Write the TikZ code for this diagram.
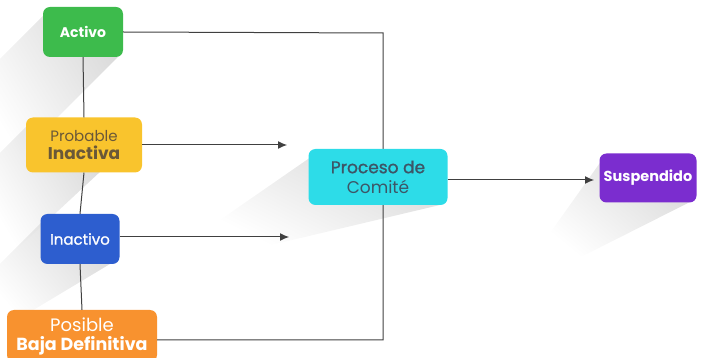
\documentclass[tikz,border=0pt]{standalone}
\usepackage{fontspec}
\setmainfont{Poppins}
\usetikzlibrary{arrows.meta,fadings}
\definecolor{cgreen}{HTML}{3DBB4C}
\definecolor{cyellow}{HTML}{F9C42D}
\definecolor{cblue}{HTML}{2D5ECF}
\definecolor{corange}{HTML}{F8922F}
\definecolor{ccyan}{HTML}{2DDCE8}
\definecolor{cpurple}{HTML}{7B2DCF}
\definecolor{ctext}{HTML}{6A5838}
\definecolor{cctext}{HTML}{3D5566}
\newcommand{\medw}{\addfontfeature{FakeBold=1.2}}
\tikzset{
  box/.style={rounded corners=7pt, inner sep=0pt, align=center},
  link/.style={draw=black!75, line width=1pt},
  arr/.style={link, -{Latex[length=9pt,width=8pt]}},
  shadow/.style={fill=black!14, path fading=east, fading angle=220},
}
\begin{document}
\begin{tikzpicture}[x=1pt,y=-1pt]
\useasboundingbox (0,0) rectangle (713,358);
% shadows
\fill[shadow] (45,14) -- (0,59) -- (0,175) -- (118,57) -- cycle;
\fill[shadow] (28,125) -- (0,153) -- (0,265) -- (100,172) -- cycle;
\fill[shadow] (42,222) -- (0,264) -- (0,330) -- (110,264) -- cycle;
\fill[shadow] (311,157) -- (220,220) -- (250,250) -- (440,205) -- cycle;
\fill[shadow] (602,160) -- (545,240) -- (575,260) -- (690,202) -- cycle;
% connectors (behind nodes)
\coordinate (tr) at (383,33);
\coordinate (br) at (383,340);
\node[box, fill=cgreen, minimum width=80pt, minimum height=50pt, text=white, font=\bfseries\fontsize{14}{16}\selectfont] (activo) at (83,32) {Activo};
\node[box, fill=cyellow, minimum width=116pt, minimum height=55pt, text=ctext, font=\fontsize{15}{18}\selectfont] (prob) at (84,145) {Probable\\{\bfseries\fontsize{17}{18}\selectfont Inactiva}};
\node[box, fill=cblue, minimum width=79pt, minimum height=50pt, text=white, font=\medw\fontsize{15}{17}\selectfont] (inact) at (80,239) {Inactivo};
\node[box, fill=corange, minimum width=150pt, minimum height=52pt, text=white, font=\fontsize{18}{19}\selectfont] (pos) at (82,336) {{\fontseries{l}\selectfont Posible}\\{\bfseries\fontsize{17.5}{19}\selectfont Baja Definitiva}};
\draw[link] (activo.south) -- (prob.north);
\draw[link] (prob.south) -- (inact.north);
\draw[link] (inact.south) -- (pos.north);
\draw[link] (activo.east |- 0,32) -- (tr) -- (br) -- (pos.east |- br);
\coordinate (a1) at (287,145);
\coordinate (a2) at (289,237);
\coordinate (a3) at (594,180);
\draw[arr] (prob.east |- a1) -- (a1);
\draw[arr] (inact.east |- a2) -- (a2);
\node[box, fill=ccyan, minimum width=139pt, minimum height=56pt, text=cctext, font=\fontsize{17}{20}\selectfont] (comite) at (378,177) {{\medw Proceso de}\\Comité};
\node[box, fill=cpurple, minimum width=97pt, minimum height=49pt, text=white, font=\bfseries\fontsize{14.5}{16}\selectfont] (susp) at (648,178) {Suspendido};
\draw[arr] (comite.east |- a3) -- (a3);
\end{tikzpicture}
\end{document}
